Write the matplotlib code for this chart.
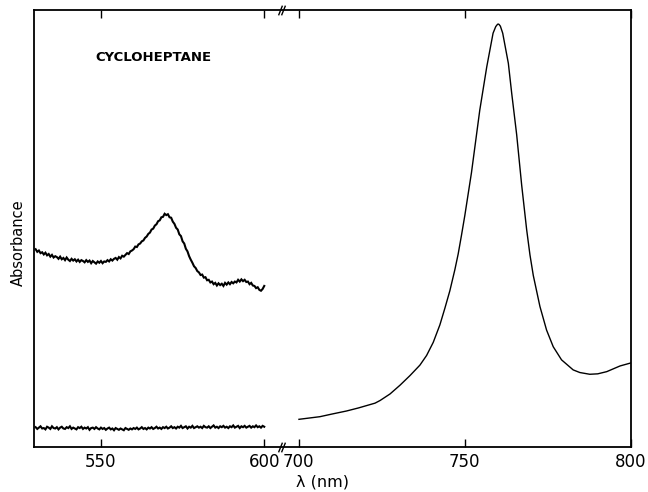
import numpy as np
import matplotlib
matplotlib.use("Agg")
import matplotlib.pyplot as plt
from matplotlib.transforms import blended_transform_factory

# ---- data (wavelength in nm, absorbance in arbitrary units) ----
upper_abs = [45.3, 44.7, 45.0, 44.4, 44.6, 44.1, 44.5, 43.9, 44.2, 43.6,
             44.0, 43.4, 43.7, 43.5, 43.1, 43.6, 43.0, 43.3, 42.8, 43.4,
             42.9, 42.6, 43.1, 42.7, 43.0, 42.5, 42.9, 42.4, 42.8, 42.6,
             42.3, 42.8, 42.4, 42.7, 42.1, 42.6, 42.3, 42.0, 42.5, 42.2,
             42.6, 42.1, 42.5, 42.4, 42.8, 42.5, 43.0, 42.7, 43.1, 43.3,
             42.9, 43.5, 43.2, 43.8, 43.6, 44.0, 44.4, 44.2, 44.8, 45.0,
             45.3, 45.9, 45.8, 46.4, 46.6, 47.1, 47.3, 47.9, 48.2, 48.8,
             49.1, 49.8, 50.0, 50.7, 51.0, 51.7, 51.9, 52.6, 52.7, 53.4,
             53.1, 53.3, 52.6, 52.5, 51.6, 51.1, 50.2, 49.8, 48.7, 48.3,
             47.1, 46.6, 45.4, 44.8, 43.7, 42.9, 42.2, 41.4, 41.0, 40.3,
             40.0, 39.4, 39.5, 38.8, 38.9, 38.2, 38.3, 37.7, 37.9, 37.3,
             37.6, 37.0, 37.5, 37.1, 37.4, 36.9, 37.6, 37.2, 37.7, 37.3,
             37.8, 37.5, 37.9, 37.7, 38.3, 37.9, 38.4, 38.0, 38.3, 37.8,
             37.9, 37.3, 37.6, 37.0, 36.9, 36.4, 36.6, 36.0, 35.8, 36.2,
             36.9]
baseline_abs = [4.6, 4.2, 4.5, 4.8, 4.3, 4.4, 4.1, 4.7, 4.5, 4.2,
                4.8, 4.4, 4.3, 4.6, 4.1, 4.5, 4.7, 4.3, 4.2, 4.6,
                4.4, 4.8, 4.2, 4.5, 4.3, 4.1, 4.6, 4.4, 4.7, 4.2,
                4.5, 4.3, 4.6, 4.0, 4.4, 4.5, 4.2, 4.6, 4.3, 4.1,
                4.5, 4.2, 4.4, 4.0, 4.3, 4.5, 4.1, 4.3, 3.9, 4.4,
                4.2, 4.0, 4.3, 4.1, 3.9, 4.4, 4.2, 4.0, 4.3, 4.1,
                4.4, 4.2, 4.5, 4.1, 4.3, 4.6, 4.2, 4.4, 4.1, 4.5,
                4.3, 4.6, 4.2, 4.4, 4.7, 4.3, 4.5, 4.2, 4.6, 4.4,
                4.7, 4.3, 4.5, 4.8, 4.4, 4.6, 4.3, 4.7, 4.5, 4.9,
                4.4, 4.6, 4.8, 4.3, 4.7, 4.5, 4.9, 4.4, 4.6, 4.8,
                4.5, 4.7, 4.4, 4.9, 4.6, 4.5, 4.8, 4.4, 4.7, 5.0,
                4.5, 4.7, 4.4, 4.8, 4.6, 4.9, 4.5, 4.7, 4.4, 4.8,
                4.6, 5.0, 4.5, 4.7, 4.9, 4.4, 4.8, 4.6, 4.9, 4.5,
                4.7, 4.9, 4.5, 4.8, 4.6, 5.0, 4.6, 4.8, 4.5, 4.9,
                4.7]
left_wl = [530 + 0.5 * i for i in range(len(upper_abs))]
assert len(upper_abs) == 141 and len(baseline_abs) == 141

right_wl = [700.1, 706.4, 710.0, 714.4, 718.0, 723.0, 724.5, 727.5, 730.5,
            733.5, 736.5, 738.5, 740.5, 742.5, 744.0, 745.5, 747.0, 748.0,
            749.0, 750.0, 752.0, 754.5, 756.6, 758.5, 759.3, 759.7, 760.0,
            760.3, 760.7, 761.4, 763.1, 764.1, 765.6, 767.1, 768.6, 769.6,
            770.6, 772.6, 774.6, 776.6, 779.1, 782.6, 784.6, 787.6, 790.0,
            792.7, 796.7, 800.0]
right_abs = [6.4, 7.0, 7.6, 8.3, 9.0, 10.1, 10.7, 12.2, 14.2,
             16.4, 18.8, 21.0, 24.0, 28.0, 31.8, 35.8, 40.6, 44.2,
             48.5, 53.0, 62.8, 77.1, 87.0, 94.7, 96.2, 96.6, 96.8,
             96.7, 96.3, 94.7, 87.8, 81.0, 71.5, 60.0, 49.8, 44.0,
             39.3, 32.2, 26.8, 23.0, 20.0, 17.7, 17.1, 16.7, 16.8,
             17.3, 18.6, 19.3]
assert len(right_wl) == len(right_abs)

tick_vals = [550, 600, 700, 750, 800]
tick_labels = ["550", "600", "700", "750", "800"]
title_text = "CYCLOHEPTANE"
x_label = "λ (nm)"
y_label = "Absorbance"

# ---- broken-axis scale ----
GAP = 10.53
K = 1.0177


def fwd(x):
    x = np.asarray(x, dtype=float)
    return np.where(x <= 600, x,
                    np.where(x >= 700, 600 + GAP + (x - 700) * K,
                             600 + (x - 600) * GAP / 100.0))


def inv(y):
    y = np.asarray(y, dtype=float)
    return np.where(y <= 600, y,
                    np.where(y >= 600 + GAP, 700 + (y - 600 - GAP) / K,
                             600 + (y - 600) * 100.0 / GAP))


fig = plt.figure(figsize=(6.48, 4.92), dpi=100)
ax = fig.add_axes([34 / 648, 1 - 447.3 / 492, (631 - 34) / 648, (447.3 - 10) / 492])
ax.set_xscale('function', functions=(fwd, inv))

ax.plot(left_wl, upper_abs, color='black', lw=1.5, solid_joinstyle='miter')
ax.plot(left_wl, baseline_abs, color='black', lw=1.5, solid_joinstyle='miter')
ax.plot(right_wl, right_abs, color='black', lw=1.0)

ax.set_xlim(529.5, 800)
ax.set_ylim(0, 100)

ax.set_xticks(tick_vals)
ax.set_xticklabels(tick_labels, fontsize=12)
ax.minorticks_off()
ax.set_yticks([])
ax.tick_params(axis='x', direction='in', length=6, width=1, top=True,
               bottom=True, pad=4)
for s in ax.spines.values():
    s.set_linewidth(1.3)

# break marks on top and bottom spines
trans = blended_transform_factory(ax.transData, ax.transAxes)
for yy in (0, 1):
    ax.plot([646, 654], [yy, yy], transform=trans, linestyle='none',
            marker=[(-0.4, -1), (0.4, 1)], markersize=7, color='black',
            mew=1.0, clip_on=False)

fig.text(322 / 648, 1 - 482 / 492, x_label, ha='center', va='center', fontsize=11.5)
fig.text(18 / 648, 1 - 243 / 492, y_label, ha='center', va='center',
         rotation=90, fontsize=10.5)
fig.text(95 / 648, 1 - 57.7 / 492, title_text, ha='left', va='center',
         fontsize=9.5, fontweight='bold')

fig.savefig("out.png", dpi=100)
